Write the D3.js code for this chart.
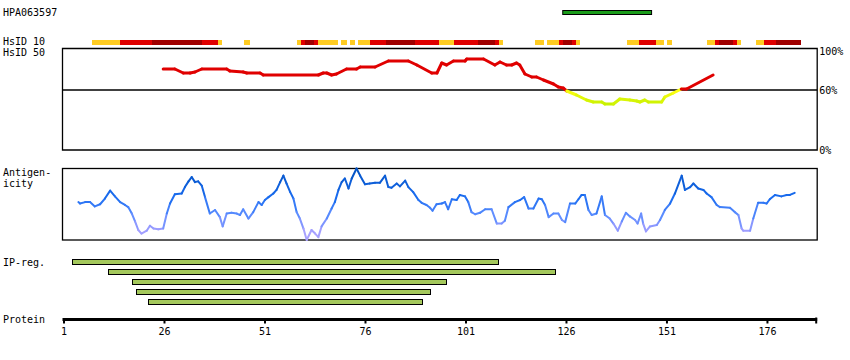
<!DOCTYPE html>
<html><head><meta charset="utf-8">
<script src="https://cdn.jsdelivr.net/npm/d3@7"></script>
<style>
html,body{margin:0;padding:0;background:#fff;}
svg text{font-family:"DejaVu Sans Mono",monospace;font-size:10px;fill:#000;}
</style></head>
<body>
<svg id="chart" width="850" height="360"></svg>
<script>
// ---------------- data ----------------
const antibodyName = "HPA063597";
const antibodyRegion = [125.2, 147.3];
const seqDomain = [1, 188.5];
const tickValues = [1, 26, 51, 76, 101, 126, 151, 176];
const identityTicks = [100, 60, 0];

// HsID 10 strip: start, end, class (y = >=..., r = high, d = highest)
const hsStart = [8,15,23,35.5,39.5,46,59,60,61,63.3,64.3,70,72.3,74.3,77.2,81.2,88.4,94.3,98.1,104.1,108.3,109.3,118.3,121.3,124.3,125.3,127.5,128.5,141.2,144.2,148.4,151.1,161.1,163.1,164.1,167.6,168.6,173.3,175.3,178.3];
const hsEnd   = [15,23,35.5,39.5,40.5,47.5,60,61,63.3,64.3,69.3,71.5,73.5,77.2,81.2,88.4,94.3,98.1,104.1,108.3,109.3,110.3,120.5,124.3,125.3,127.5,128.5,129.5,144.2,148.4,150.4,152.4,163.1,164.1,167.6,168.6,169.6,175.3,178.3,184.5];
const hsClass = ["y","r","d","r","y","y","y","r","d","r","y","y","y","y","r","d","r","y","r","d","r","y","y","y","r","d","r","y","y","r","y","y","y","r","d","r","y","y","r","d"];

// HsID 50 identity (%) along the sequence
const identityPos = [25.8,28.7,30.8,32.5,33.7,35.4,41.6,42.4,45.7,46.6,49.9,50.7,64.4,65.6,66.5,67.7,68.9,71.4,73.9,74.8,78.5,81.8,86.8,88.9,92.6,93.9,95.1,96.3,98,100.9,101.3,105.5,108.3,109.6,111.2,112.5,113.7,114.5,115.8,117.5,118.7,120.4,122.9,124.1,125.3,126.2,128.6,131.1,132.8,134.9,135.7,137.8,139.4,141.9,143.6,144.4,145.6,146.5,149.8,150.6,152.7,154.7,156,162.6];
const identityVal = [81,81,77,77,78,81,81,79,78,77,77,75,75,77,77,75,76,81,81,83,83,89,89,85,77,77,87,85,89,89,91,91,85,88,85,85,87,85,76,73,73,70,66,63,62,59,55,50,48,48,46,46,51,50,49,48,50,48,48,53,57,61,61,75];

// Antigenicity (relative, 0-100)
const antigenPos = [4.7,5.1,6.4,7.6,8.8,10.1,11.3,12.6,13.8,15.1,16.3,17.1,18,18.8,19.6,20.4,21.7,22.5,23.4,24.6,25.8,26.7,27.5,28.7,30.4,31.2,32.1,32.9,33.7,34.5,35.4,36.2,37.4,38.7,39.9,40.6,41.6,42.8,44.1,44.9,45.7,47,48.2,49.5,50.3,51.1,52,53.2,54,54.9,55.7,56.5,57.4,58.2,59,59.8,60.7,61.5,62.7,63.6,64.4,65.2,66.5,67.7,68.5,69.4,70.2,71,71.9,72.7,73.9,74.8,76,77.2,78.5,79.7,81,81.8,82.6,83.9,84.7,86,86.8,88,89.3,90.1,91.3,92.2,92.8,93.8,95.1,95.9,96.7,97.6,98.8,99.6,100.9,101.7,102.5,103.4,104.6,105.9,107.5,108.8,110,110.8,111.7,113.3,114.6,115.6,116.7,117.9,119.2,120,120.8,121.7,122.9,124.1,125,125.8,127,128.3,129.1,129.9,130.7,131.6,132.4,133.6,134.9,135.7,136.9,137.8,138.9,139.9,140.9,141.9,143.2,143.8,144.7,145.2,145.9,146.9,148.6,149.4,150.6,151.9,153.1,154.8,155.6,156.9,157.7,158.9,160.2,161,162.2,163.5,164.3,166.8,168,168.9,169.7,170.1,171.8,172.6,173.8,175.1,175.9,176.7,178,179.6,180.9,181.7,182.9];
const antigenVal = [53,51,53,53,47,50,58,69,61,53,49,46,37,26,14,9,13,20,16,15,16,37,51,64,65,74,82,88,81,82,76,60,37,42,32,19,37,38,37,35,43,30,39,53,49,56,60,65,70,81,90,79,67,58,39,30,16,0,14,9,4,19,30,44,53,70,81,86,72,86,100,90,78,79,80,80,90,74,73,79,75,83,74,67,56,52,49,45,41,50,51,53,43,57,56,63,61,53,39,36,38,43,43,23,23,27,46,53,56,60,44,44,58,57,49,32,37,37,28,25,51,51,57,63,63,42,35,37,61,35,30,23,13,26,38,33,28,23,37,23,12,19,21,28,42,51,65,90,70,74,79,72,70,65,60,49,46,45,39,35,16,13,13,30,52,52,51,57,63,61,63,63,66];

// IP regions
const ipStart = [3, 12.1, 18, 19, 22];
const ipEnd   = [109.1, 123.3, 96.1, 92.2, 90.2];

// ---------------- drawing ----------------
const svg = d3.select("#chart");
const x = d3.scaleLinear().domain(seqDomain).range([63.5, 817.2]);
const left = x(seqDomain[0]) - 1, right = x(seqDomain[1]);

// title + antibody bar
svg.append("text").attr("x", 3).attr("y", 16).text(antibodyName);
svg.append("rect").attr("x", x(antibodyRegion[0])).attr("y", 10.5)
  .attr("width", x(antibodyRegion[1]) - x(antibodyRegion[0])).attr("height", 4)
  .attr("fill", "#1a9c1a").attr("stroke", "#000").attr("stroke-width", 1);

// HsID 10 strip
svg.append("text").attr("x", 3).attr("y", 45).text("HsID 10");
const hsColor = {y: "#ffcc22", r: "#e00000", d: "#a00000"};
svg.append("g").selectAll("rect").data(hsStart.map((s, i) => ({s, e: hsEnd[i], c: hsClass[i]})))
  .join("rect")
  .attr("x", d => x(d.s)).attr("width", d => x(d.e) - x(d.s))
  .attr("y", 39.5).attr("height", 5.5).attr("fill", d => hsColor[d.c])
  .attr("shape-rendering", "crispEdges");

// HsID 50 identity panel
svg.append("text").attr("x", 3).attr("y", 55.5).text("HsID 50");
const yId = d3.scaleLinear().domain([0, 100]).range([150, 50]);
const idPanel = svg.append("g");
idPanel.append("path")
  .attr("d", `M${left},150 V48.5 H${right} V150 Z`)
  .attr("fill", "none").attr("stroke", "#000").attr("stroke-width", 1.3);
idPanel.append("line").attr("x1", left).attr("x2", right)
  .attr("y1", yId(60)).attr("y2", yId(60)).attr("stroke", "#000").attr("stroke-width", 1.3);
idPanel.selectAll("text.pct").data(identityTicks).join("text").attr("class", "pct")
  .attr("x", right + 2).attr("y", d => d === 100 ? 55 : yId(d) + 3.5).text(d => d + "%");

const lowColor = d3.scaleLinear().domain([60, 45]).range(["#ffff10", "#c4f000"]).clamp(true);
const idColor = v => v >= 60 ? "#e00000" : lowColor(v);
const idPts = identityPos.map((p, i) => [p, identityVal[i]]);
idPanel.selectAll("line.id").data(d3.pairs(idPts)).join("line").attr("class", "id")
  .attr("x1", d => x(d[0][0])).attr("y1", d => yId(d[0][1]))
  .attr("x2", d => x(d[1][0])).attr("y2", d => yId(d[1][1]))
  .attr("stroke", d => idColor((d[0][1] + d[1][1]) / 2))
  .attr("stroke-width", 3).attr("stroke-linecap", "round");

// Antigenicity panel
svg.append("text").attr("x", 3).attr("y", 176).text("Antigen-");
svg.append("text").attr("x", 3).attr("y", 186.5).text("icity");
const yAg = d3.scaleLinear().domain([0, 100]).range([240, 168.5]);
svg.append("rect").attr("x", left).attr("y", 168.5).attr("width", right - left).attr("height", 71.5)
  .attr("fill", "none").attr("stroke", "#000").attr("stroke-width", 1.3);
const agColor = d3.scaleLinear().domain([0, 15, 35, 60, 100]).range(["#b4a8ff", "#9c9cff", "#5a8cff", "#1a6cf0", "#0050c0"]);
const agPts = antigenPos.map((p, i) => [p, antigenVal[i]]);
svg.append("g").selectAll("line").data(d3.pairs(agPts)).join("line")
  .attr("x1", d => x(d[0][0])).attr("y1", d => yAg(d[0][1]))
  .attr("x2", d => x(d[1][0])).attr("y2", d => yAg(d[1][1]))
  .attr("stroke", d => agColor((d[0][1] + d[1][1]) / 2))
  .attr("stroke-width", 2).attr("stroke-linecap", "round");

// IP regions
svg.append("text").attr("x", 3).attr("y", 266).text("IP-reg.");
svg.append("g").selectAll("rect").data(ipStart.map((s, i) => ({s, e: ipEnd[i], i})))
  .join("rect")
  .attr("x", d => x(d.s) + 0.5).attr("width", d => x(d.e) - x(d.s))
  .attr("y", d => 259.5 + d.i * 10).attr("height", 5)
  .attr("fill", "#a4c85c").attr("stroke", "#000").attr("stroke-width", 1)
  .attr("shape-rendering", "crispEdges");

// Protein axis
svg.append("text").attr("x", 3).attr("y", 323).text("Protein");
const axis = d3.axisBottom(x).tickValues(tickValues).tickSize(4).tickPadding(4).tickFormat(d3.format("d"));
const ag = svg.append("g").attr("transform", "translate(0,319.5)").call(axis);
ag.select(".domain").attr("d", `M${left},0 H${right}`).attr("stroke-width", 3);
ag.selectAll(".tick line").attr("stroke-width", 2);
ag.selectAll(".tick text").attr("font-family", "DejaVu Sans Mono, monospace").attr("font-size", 10).attr("fill", "#000");
ag.append("line").attr("x1", right - 1).attr("x2", right - 1).attr("y1", -2).attr("y2", 4)
  .attr("stroke", "#000").attr("stroke-width", 2);
</script>
</body></html>
